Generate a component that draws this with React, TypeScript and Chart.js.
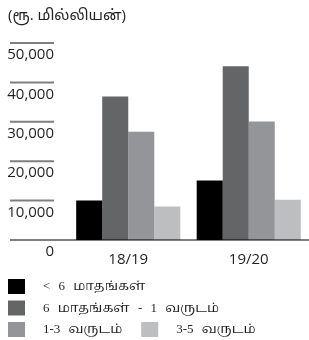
import { useEffect, useRef } from "react";
import { Chart, registerables } from "chart.js";

Chart.register(...registerables);

const categories = ["18/19", "19/20"];
const seriesLabels = ["< 6 மாதங்கள்", "6 மாதங்கள் - 1 வருடம்", "1-3 வருடம்", "3-5 வருடம்"];
const under6Months = [10000, 15100];
const sixMonthsTo1Year = [36400, 44100];
const oneTo3Years = [27500, 30100];
const threeTo5Years = [8500, 10200];
const seriesColors = ["#000000", "#646567", "#939598", "#bcbec0"];
const yTickValues = [0, 10000, 20000, 30000, 40000, 50000];
const titleText = "(ரூ. மில்லியன்)";
const legendRows = [[0], [1], [2, 3]];

const SANS = "'Open Sans', 'Noto Sans Tamil', 'Noto Sans', sans-serif";
const SERIF = "'Liberation Serif', 'Noto Serif Tamil', 'Noto Sans Tamil', serif";

const guideLines = {
  id: "guideLines",
  afterDatasetsDraw(chart: any) {
    const y = chart.scales.y;
    const ctx = chart.ctx;
    ctx.save();
    ctx.strokeStyle = "rgba(0,0,0,0.5)";
    ctx.lineWidth = 2;
    y.ticks.forEach((t: any) => {
      const py = y.getPixelForValue(t.value);
      ctx.beginPath();
      ctx.moveTo(y.left + 2, py);
      ctx.lineTo(t.value === 0 ? chart.width : y.left + 46, py);
      ctx.stroke();
    });
    ctx.restore();
  },
};

const customLegend = {
  id: "customLegend",
  afterDraw(chart: any) {
    const ctx = chart.ctx;
    const boxW = 17;
    const boxH = 15;
    const textGap = 18;
    const itemGap = 19;
    const left = 8;
    const top = 279;
    const pitch = 21.5;
    ctx.save();
    ctx.font = `13px ${SERIF}`;
    if ("wordSpacing" in ctx) (ctx as any).wordSpacing = "5px";
    ctx.textBaseline = "middle";
    ctx.textAlign = "left";
    legendRows.forEach((row, r) => {
      let x = left;
      const y = top + r * pitch;
      row.forEach((i) => {
        const ds = chart.data.datasets[i];
        ctx.fillStyle = ds.backgroundColor;
        ctx.fillRect(x, y, boxW, boxH);
        ctx.fillStyle = "#231f20";
        const tx = x + boxW + textGap;
        ctx.fillText(ds.label, tx, y + boxH / 2 + 0.5);
        x = tx + ctx.measureText(ds.label).width + itemGap;
      });
    });
    ctx.restore();
  },
};

export default function App() {
  const ref = useRef<HTMLCanvasElement>(null);
  useEffect(() => {
    document.body.style.margin = "0";
    const seriesValues = [under6Months, sixMonthsTo1Year, oneTo3Years, threeTo5Years];
    const chart = new Chart(ref.current!, {
      type: "bar",
      data: {
        labels: categories,
        datasets: seriesValues.map((v, i) => ({
          label: seriesLabels[i],
          data: v,
          backgroundColor: seriesColors[i],
          borderWidth: 0,
          barPercentage: 1,
          categoryPercentage: 0.864,
        })),
      },
      options: {
        animation: false,
        responsive: false,
        layout: { padding: { left: 8, right: -6, top: 0, bottom: 70 } },
        plugins: {
          legend: { display: false },
          tooltip: { enabled: false },
          title: {
            display: true,
            text: titleText,
            align: "start",
            color: "#231f20",
            font: { family: SANS, size: 15, weight: "normal" },
            padding: { top: 7, bottom: 18 },
          },
        },
        scales: {
          x: {
            grid: { display: false, drawTicks: false },
            border: { display: false },
            ticks: {
              color: "#231f20",
              font: { family: SANS, size: 15 },
              padding: 11,
            },
            afterFit: (s: any) => {
              s.height = 30;
            },
          },
          y: {
            min: 0,
            max: 50000,
            grid: { display: false, drawTicks: false },
            border: { display: false },
            afterBuildTicks: (s: any) => {
              s.ticks = yTickValues.map((v) => ({ value: v }));
            },
            ticks: {
              color: "#231f20",
              font: { family: SANS, size: 15 },
              padding: 14,
              labelOffset: 12,
              callback: (v: any) => Number(v).toLocaleString("en-US"),
            },
            afterFit: (s: any) => {
              s.width = 60;
              s._computeLabelArea = () => undefined;
            },
          },
        },
      },
      plugins: [guideLines, customLegend],
    });
    return () => chart.destroy();
  }, []);
  return (
    <div style={{ width: 309, height: 340 }}>
      <canvas ref={ref} width={309} height={340} style={{ display: "block" }} />
    </div>
  );
}
